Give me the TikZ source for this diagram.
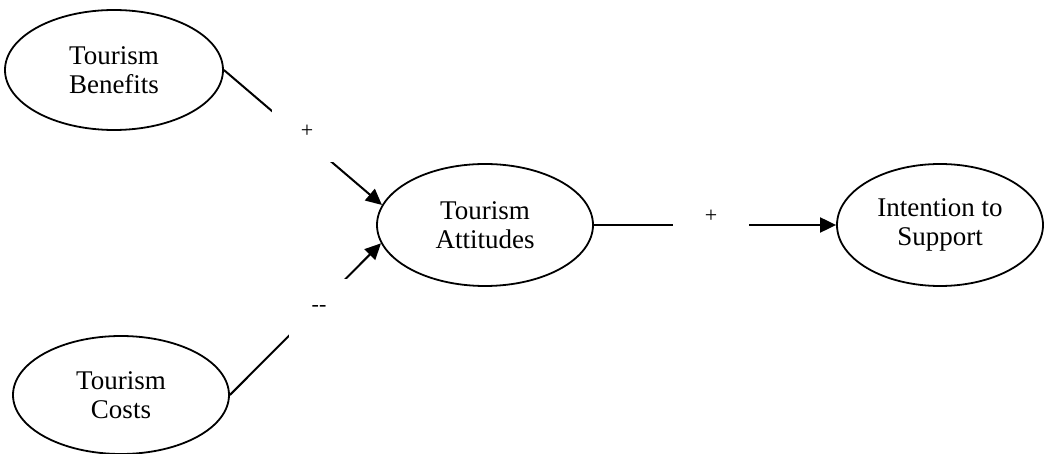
\documentclass[tikz,border=0pt]{standalone}
\usepackage{fontspec}
\setmainfont{Liberation Serif}
\usetikzlibrary{shapes.geometric,arrows.meta}
\begin{document}
\begin{tikzpicture}[x=1pt,y=-1pt,
  construct/.style={ellipse,draw,line width=1.8pt,align=center,inner sep=0pt,
    font=\fontsize{27}{29}\selectfont},
  arr/.style={line width=2pt,-{Triangle[length=16pt,width=15pt]}},
  sign/.style={fill=white,inner sep=0pt,font=\fontsize{22}{24}\selectfont}]
\useasboundingbox (0,0) rectangle (1045,454);
\node[construct,minimum width=218pt,minimum height=120pt] (ben) at (114,70) {Tourism\\Benefits};
\node[construct,minimum width=216pt,minimum height=118pt] (cost) at (121,395) {Tourism\\Costs};
\node[construct,minimum width=216pt,minimum height=122pt] (att) at (485,225) {Tourism\\Attitudes};
\node[construct,minimum width=206pt,minimum height=122pt] (int) at (940,225) {Intention to\\Support};
\draw[arr] (ben.east) -- (att.169);
\draw[arr] (cost.east) -- (att.190);
\draw[arr] (att.east) -- (int.west);
\node[sign,minimum width=70pt,minimum height=62pt] (s1) at (307,131) {+};
\node[sign,minimum width=60pt,minimum height=58pt] (s2) at (319,308) {-{}-};
\node[sign,minimum width=76pt,minimum height=30pt] (s3) at (711,216) {+};
\end{tikzpicture}
\end{document}
